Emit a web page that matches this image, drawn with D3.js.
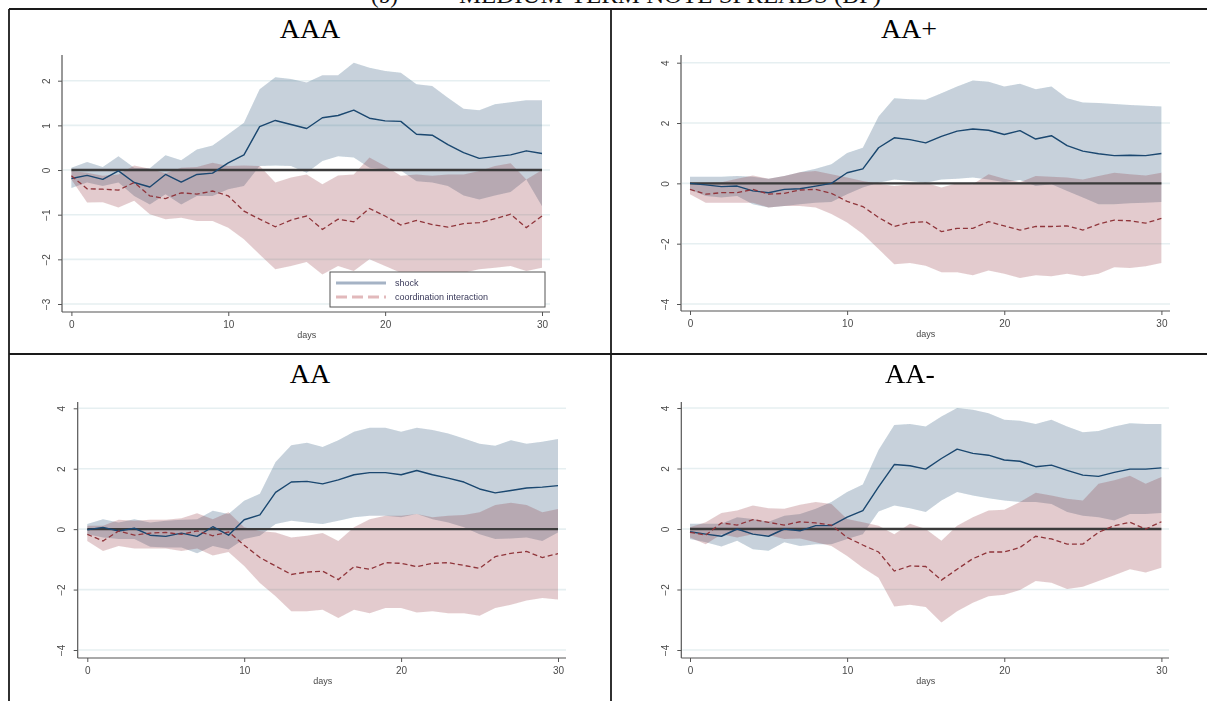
<!DOCTYPE html>
<html>
<head>
<meta charset="utf-8">
<script src="https://cdn.jsdelivr.net/npm/d3@7"></script>
<style>
  body { margin: 0; background: #fff; }
  svg { display: block; }
</style>
</head>
<body>
<svg id="fig" width="1207" height="701"></svg>
<script>
// ---- data -------------------------------------------------------------
const days = [0,1,2,3,4,5,6,7,8,9,10,11,12,13,14,15,16,17,18,19,20,21,22,23,24,25,26,27,28,29,30];
const xTicks = [0, 10, 20, 30];
const yTicksAAA = [-3, -2, -1, 0, 1, 2];
const yTicksWide = [-4, -2, 0, 2, 4];
const panelTitles = ["AAA", "AA+", "AA", "AA-"];
const legendLabels = ["shock", "coordination interaction"];
const xAxisTitle = "days";
const tableHeading = ["(b)", "MEDIUM-TERM NOTE SPREADS (BP)"];

// AAA
const aaaShock   = [-0.19,-0.12,-0.21,-0.02,-0.28,-0.38,-0.10,-0.27,-0.10,-0.07,0.16,0.34,0.97,1.11,1.02,0.93,1.17,1.22,1.34,1.16,1.10,1.09,0.80,0.78,0.57,0.39,0.26,0.30,0.34,0.43,0.37];
const aaaShockHi = [0.05,0.18,0.07,0.31,0.05,0.04,0.33,0.22,0.46,0.55,0.80,1.06,1.81,2.08,2.04,1.96,2.12,2.12,2.40,2.29,2.22,2.18,1.92,1.88,1.62,1.37,1.34,1.47,1.52,1.56,1.56];
const aaaShockLo = [-0.40,-0.28,-0.36,-0.28,-0.58,-0.77,-0.54,-0.77,-0.58,-0.58,-0.43,-0.36,0.09,0.10,0.09,-0.06,0.20,0.31,0.28,0.05,0.01,-0.01,-0.25,-0.28,-0.36,-0.57,-0.66,-0.57,-0.49,-0.21,-0.81];
const aaaCoord   = [-0.13,-0.42,-0.43,-0.45,-0.28,-0.58,-0.64,-0.51,-0.54,-0.47,-0.58,-0.92,-1.10,-1.27,-1.12,-1.03,-1.33,-1.10,-1.16,-0.86,-1.03,-1.23,-1.13,-1.22,-1.28,-1.20,-1.18,-1.09,-0.99,-1.29,-1.03];
const aaaCoordHi = [-0.02,-0.06,-0.13,-0.10,0.10,0.03,-0.07,0.05,0.07,0.16,0.09,0.10,0.09,-0.28,-0.17,-0.10,-0.32,-0.12,-0.10,0.28,0.09,-0.13,-0.10,-0.13,-0.10,-0.10,-0.02,0.09,0.15,-0.21,0.00];
const aaaCoordLo = [-0.21,-0.73,-0.72,-0.84,-0.69,-0.99,-1.10,-1.07,-1.14,-1.14,-1.29,-1.55,-1.89,-2.22,-2.15,-2.06,-2.34,-2.15,-2.26,-2.00,-2.15,-2.30,-2.30,-2.30,-2.30,-2.30,-2.22,-2.19,-2.15,-2.26,-2.19];

// AA+
const aapShock   = [0,-0.05,-0.11,-0.09,-0.25,-0.31,-0.20,-0.18,-0.09,0,0.35,0.48,1.18,1.51,1.45,1.34,1.56,1.73,1.80,1.76,1.62,1.75,1.47,1.58,1.25,1.07,0.98,0.92,0.93,0.92,0.99];
const aapShockHi = [0.22,0.22,0.22,0.24,0.22,0.15,0.24,0.37,0.48,0.63,1.01,1.18,2.22,2.82,2.79,2.77,2.99,3.21,3.41,3.37,3.21,3.30,3.12,3.21,2.82,2.68,2.66,2.63,2.60,2.57,2.55];
const aapShockLo = [-0.20,-0.42,-0.47,-0.42,-0.69,-0.80,-0.75,-0.69,-0.64,-0.62,-0.36,-0.14,0.02,0.13,0.08,0.02,0.13,0.15,0.19,0.13,0.04,0.11,-0.09,-0.03,-0.25,-0.47,-0.69,-0.69,-0.66,-0.64,-0.62];
const aapCoord   = [-0.20,-0.36,-0.31,-0.31,-0.20,-0.36,-0.33,-0.22,-0.20,-0.33,-0.60,-0.77,-1.13,-1.43,-1.30,-1.27,-1.60,-1.49,-1.49,-1.27,-1.41,-1.55,-1.43,-1.43,-1.41,-1.55,-1.35,-1.22,-1.24,-1.32,-1.16];
const aapCoordHi = [0.02,0.02,0.04,0.15,0.26,0.15,0.24,0.37,0.41,0.30,0.19,0.08,-0.01,-0.09,-0.03,0.02,-0.14,0,-0.03,0.30,0.15,0.04,0.24,0.22,0.19,0.13,0.24,0.35,0.30,0.26,0.35];
const aapCoordLo = [-0.36,-0.64,-0.64,-0.64,-0.64,-0.80,-0.75,-0.75,-0.80,-1.02,-1.30,-1.68,-2.18,-2.68,-2.64,-2.73,-2.95,-2.95,-3.05,-2.89,-3.00,-3.14,-3.05,-3.08,-3.00,-3.08,-3.00,-2.78,-2.81,-2.75,-2.64];

// AA
const aaShock   = [-0.02,0.06,-0.06,0.03,-0.20,-0.24,-0.13,-0.24,0.08,-0.20,0.31,0.47,1.22,1.56,1.58,1.50,1.63,1.80,1.87,1.87,1.80,1.94,1.80,1.69,1.56,1.33,1.20,1.28,1.36,1.39,1.44];
const aaShockHi = [0.17,0.33,0.22,0.33,0.22,0.28,0.31,0.33,0.61,0.50,0.94,1.17,2.22,2.78,2.86,2.72,2.94,3.22,3.36,3.36,3.22,3.36,3.28,3.17,3.00,2.83,2.76,2.94,2.83,2.89,2.98];
const aaShockLo = [-0.17,-0.28,-0.33,-0.33,-0.58,-0.61,-0.61,-0.80,-0.56,-0.67,-0.33,-0.22,0.17,0.28,0.22,0.17,0.28,0.39,0.44,0.44,0.39,0.50,0.33,0.22,0.06,-0.17,-0.33,-0.31,-0.28,-0.39,-0.11];
const aaCoord   = [-0.17,-0.39,-0.06,-0.20,-0.13,-0.11,-0.17,-0.06,-0.22,-0.09,-0.53,-0.94,-1.22,-1.50,-1.42,-1.39,-1.67,-1.24,-1.33,-1.11,-1.13,-1.24,-1.13,-1.11,-1.20,-1.30,-0.91,-0.80,-0.74,-0.94,-0.81];
const aaCoordHi = [0.11,0.11,0.31,0.28,0.31,0.31,0.36,0.53,0.33,0.56,0.06,-0.06,-0.11,-0.28,-0.22,-0.13,-0.39,0.06,0.33,0.44,0.44,0.50,0.39,0.44,0.47,0.56,0.80,0.87,0.80,0.56,0.67];
const aaCoordLo = [-0.39,-0.72,-0.56,-0.64,-0.64,-0.64,-0.72,-0.64,-0.87,-0.76,-1.22,-1.78,-2.22,-2.72,-2.72,-2.67,-2.94,-2.67,-2.78,-2.61,-2.61,-2.76,-2.72,-2.78,-2.78,-2.87,-2.61,-2.50,-2.36,-2.28,-2.33];

// AA-
const aamShock   = [-0.09,-0.17,-0.24,0,-0.17,-0.24,0,-0.06,0.11,0.11,0.39,0.61,1.39,2.13,2.09,1.98,2.33,2.64,2.50,2.44,2.28,2.24,2.06,2.11,1.94,1.78,1.74,1.87,1.98,1.98,2.02];
const aamShockHi = [0.17,0.17,0.17,0.39,0.33,0.24,0.44,0.50,0.67,0.89,1.22,1.47,2.61,3.44,3.47,3.39,3.72,4.00,3.94,3.83,3.61,3.58,3.47,3.61,3.39,3.20,3.24,3.39,3.50,3.47,3.47];
const aamShockLo = [-0.33,-0.44,-0.58,-0.39,-0.67,-0.72,-0.44,-0.56,-0.50,-0.50,-0.33,-0.17,0.58,0.78,0.69,0.56,0.94,1.22,1.11,1.02,0.94,0.89,0.89,0.83,0.56,0.44,0.39,0.28,0.50,0.50,0.53];
const aamCoord   = [-0.11,-0.20,0.20,0.13,0.31,0.22,0.13,0.24,0.20,0.13,-0.28,-0.53,-0.76,-1.39,-1.22,-1.24,-1.69,-1.33,-0.98,-0.76,-0.76,-0.61,-0.24,-0.33,-0.50,-0.50,-0.11,0.11,0.22,0,0.24];
const aamCoordHi = [0.06,0.22,0.53,0.61,0.78,0.69,0.67,0.80,0.89,0.83,0.33,0.22,0.11,-0.17,0.17,0,-0.39,0.11,0.39,0.61,0.64,0.89,1.20,1.11,1.00,0.94,1.50,1.61,1.76,1.50,1.72];
const aamCoordLo = [-0.28,-0.50,-0.17,-0.28,-0.17,-0.20,-0.33,-0.31,-0.44,-0.56,-0.89,-1.28,-1.61,-2.56,-2.50,-2.58,-3.09,-2.72,-2.44,-2.22,-2.17,-2.02,-1.72,-1.78,-1.98,-1.91,-1.72,-1.53,-1.33,-1.44,-1.28];

// ---- layout -----------------------------------------------------------
// frame: axis box; xPx: pixel of day 0 / day 30; yRef: two [value, pixel] anchors
const panels = [
  { title: panelTitles[0], titleX: 310, titleY: 38, yTicks: yTicksAAA,
    series: [aaaShock, aaaShockLo, aaaShockHi, aaaCoord, aaaCoordLo, aaaCoordHi],
    frame: { left: 62, right: 550, top: 55, bottom: 312 }, xPx: [71.4, 542],
    yRef: [[2, 80.7], [-3, 304]], legend: { x: 330, y: 272, w: 215, h: 35 } },
  { title: panelTitles[1], titleX: 909, titleY: 38, yTicks: yTicksWide,
    series: [aapShock, aapShockLo, aapShockHi, aapCoord, aapCoordLo, aapCoordHi],
    frame: { left: 681, right: 1170, top: 55, bottom: 311 }, xPx: [690, 1161.4],
    yRef: [[4, 62.7], [-4, 304]] },
  { title: panelTitles[2], titleX: 310, titleY: 383, yTicks: yTicksWide,
    series: [aaShock, aaShockLo, aaShockHi, aaCoord, aaCoordLo, aaCoordHi],
    frame: { left: 77.7, right: 566, top: 402, bottom: 658 }, xPx: [87.3, 558],
    yRef: [[4, 408.3], [-4, 650]] },
  { title: panelTitles[3], titleX: 910, titleY: 383, yTicks: yTicksWide,
    series: [aamShock, aamShockLo, aamShockHi, aamCoord, aamCoordLo, aamCoordHi],
    frame: { left: 681.3, right: 1169, top: 402, bottom: 658 }, xPx: [690, 1161.4],
    yRef: [[4, 408], [-4, 650]] }
];

const navy = "#1a476f", maroon = "#90353b";

const svg = d3.select("#fig");
svg.append("defs").append("filter").attr("id", "soft")
  .attr("x", "-5%").attr("y", "-5%").attr("width", "110%").attr("height", "110%")
  .append("feGaussianBlur").attr("stdDeviation", 0.55);

// table heading, running off the top edge
const head = svg.append("g").attr("font-family", "Liberation Serif, serif")
  .attr("font-size", 23).attr("fill", "#111");
head.append("text").attr("x", 371).attr("y", 3).text(tableHeading[0]);
head.append("text").attr("x", 459).attr("y", 3)
  .attr("textLength", 422).attr("lengthAdjust", "spacingAndGlyphs").text(tableHeading[1]);

panels.forEach(p => {
  const f = p.frame;
  const x = d3.scaleLinear().domain([0, 30]).range(p.xPx);
  const y = d3.scaleLinear().domain([p.yRef[0][0], p.yRef[1][0]]).range([p.yRef[0][1], p.yRef[1][1]]);
  const [mean, lo, hi, cMean, cLo, cHi] = p.series;

  const g = svg.append("g").attr("filter", "url(#soft)");

  // grid lines
  g.append("g").selectAll("line").data(p.yTicks).join("line")
    .attr("x1", f.left + 1).attr("x2", f.right)
    .attr("y1", d => y(d)).attr("y2", d => y(d))
    .attr("stroke", "#e6eff1").attr("stroke-width", 1.6);

  const band = (l, h) => d3.area().x((d, i) => x(days[i])).y0((d, i) => y(l[i])).y1((d, i) => y(h[i]));
  const line = s => d3.line().x((d, i) => x(days[i])).y((d, i) => y(s[i]));

  g.append("path").attr("d", band(lo, hi)(days)).attr("fill", navy).attr("fill-opacity", 0.25);
  g.append("path").attr("d", band(cLo, cHi)(days)).attr("fill", maroon).attr("fill-opacity", 0.25);

  // zero reference line
  g.append("line").attr("x1", x(0)).attr("x2", x(30)).attr("y1", y(0)).attr("y2", y(0))
    .attr("stroke", "#3a3a3a").attr("stroke-width", 2.3);

  g.append("path").attr("d", line(mean)(days)).attr("fill", "none")
    .attr("stroke", navy).attr("stroke-width", 1.4).attr("stroke-linejoin", "round");
  g.append("path").attr("d", line(cMean)(days)).attr("fill", "none")
    .attr("stroke", maroon).attr("stroke-width", 1.3).attr("stroke-dasharray", "5,3");

  // axes
  const yAxis = g.append("g").attr("transform", `translate(${f.left},0)`)
    .call(d3.axisLeft(y).tickValues(p.yTicks).tickSize(4).tickFormat(d3.format("d")));
  yAxis.select(".domain").remove();
  yAxis.selectAll(".tick line").attr("stroke", "#555");
  yAxis.selectAll(".tick text")
    .attr("transform", "rotate(-90)").attr("x", 0).attr("y", -16).attr("dy", "0.35em")
    .attr("text-anchor", "middle");

  const xAxis = g.append("g").attr("transform", `translate(0,${f.bottom})`)
    .call(d3.axisBottom(x).tickValues(xTicks).tickSize(4).tickPadding(5));
  xAxis.select(".domain").remove();
  xAxis.selectAll(".tick line").attr("stroke", "#555");

  g.selectAll(".tick text").attr("font-family", "Liberation Sans, Arial, sans-serif")
    .attr("font-size", 10).attr("fill", "#4a4a4a");

  g.append("line").attr("x1", f.left).attr("x2", f.left).attr("y1", f.top).attr("y2", f.bottom)
    .attr("stroke", "#555").attr("stroke-width", 1.2);
  g.append("line").attr("x1", f.left).attr("x2", f.right).attr("y1", f.bottom).attr("y2", f.bottom)
    .attr("stroke", "#555").attr("stroke-width", 1.2);

  g.append("text").attr("x", (p.xPx[0] + p.xPx[1]) / 2).attr("y", f.bottom + 26)
    .attr("text-anchor", "middle").attr("font-family", "Liberation Sans, Arial, sans-serif")
    .attr("font-size", 9).attr("fill", "#4a4a4a").text(xAxisTitle);

  if (p.legend) {
    const L = p.legend;
    const lg = g.append("g");
    lg.append("rect").attr("x", L.x).attr("y", L.y).attr("width", L.w).attr("height", L.h)
      .attr("fill", "#fff").attr("stroke", "#555").attr("stroke-width", 1);
    const rows = [
      { color: "#a5b3c5", dash: null, label: legendLabels[0] },
      { color: "#e2b9bb", dash: "11,5", label: legendLabels[1] }
    ];
    rows.forEach((r, i) => {
      const ry = L.y + 11 + i * 14;
      lg.append("line").attr("x1", L.x + 6).attr("x2", L.x + 56).attr("y1", ry).attr("y2", ry)
        .attr("stroke", r.color).attr("stroke-width", 3).attr("stroke-dasharray", r.dash);
      lg.append("text").attr("x", L.x + 65).attr("y", ry).attr("dy", "0.35em")
        .attr("font-family", "Liberation Sans, Arial, sans-serif").attr("font-size", 9)
        .attr("fill", "#3a3a5a").text(r.label);
    });
  }

  // panel heading
  svg.append("text").attr("x", p.titleX).attr("y", p.titleY).attr("text-anchor", "middle")
    .attr("font-family", "Liberation Serif, serif").attr("font-size", 28).attr("fill", "#000")
    .text(p.title);
});

// table rules
const rules = svg.append("g").attr("stroke", "#1a1a1a").attr("stroke-width", 1.8);
rules.append("line").attr("x1", 9).attr("x2", 1207).attr("y1", 9).attr("y2", 9);
rules.append("line").attr("x1", 9).attr("x2", 1207).attr("y1", 354).attr("y2", 354);
rules.append("line").attr("x1", 9).attr("x2", 9).attr("y1", 9).attr("y2", 701);
rules.append("line").attr("x1", 611).attr("x2", 611).attr("y1", 9).attr("y2", 701);
</script>
</body>
</html>
